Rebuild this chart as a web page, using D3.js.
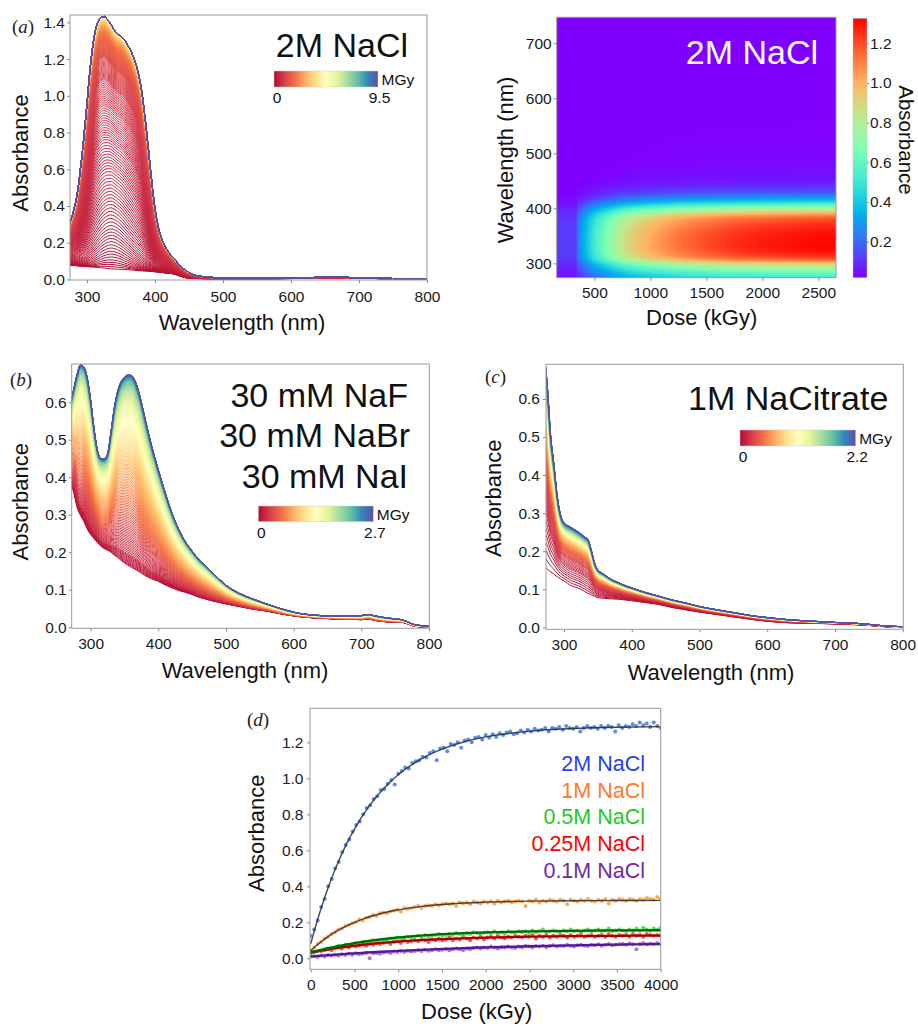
<!DOCTYPE html>
<html>
<head>
<meta charset="utf-8">
<script src="https://cdn.jsdelivr.net/npm/d3@7"></script>
<style>
  body { margin: 0; background: #fff; }
  svg { display: block; }
</style>
</head>
<body>
<svg id="fig" width="918" height="1027"></svg>
<script>
// (a) 2M NaCl spectra: dose-0 baseline, last spectrum, shape of the first grown-in band
var aWl = [275, 280, 285, 290, 295, 300, 305, 310, 315, 320, 325, 330, 335, 340, 345, 350, 355, 360, 365, 370, 375, 380, 385, 390, 395, 400, 405, 410, 415, 420, 425, 430, 440, 450, 460, 480, 500, 550, 600, 650, 700, 750, 800];
var aBase = [0.078, 0.076, 0.075, 0.073, 0.072, 0.07, 0.068, 0.067, 0.065, 0.064, 0.062, 0.06, 0.058, 0.057, 0.056, 0.055, 0.054, 0.053, 0.052, 0.05, 0.048, 0.047, 0.046, 0.045, 0.043, 0.042, 0.04, 0.038, 0.036, 0.034, 0.032, 0.028, 0.015, 0.007, 0.005, 0.004, 0.004, 0.004, 0.005, 0.008, 0.007, 0.003, 0.0];
var aFinal = [0.31, 0.37, 0.45, 0.59, 0.76, 0.96, 1.16, 1.31, 1.39, 1.425, 1.432, 1.415, 1.39, 1.36, 1.335, 1.325, 1.305, 1.275, 1.24, 1.195, 1.13, 1.035, 0.89, 0.72, 0.54, 0.385, 0.285, 0.22, 0.18, 0.15, 0.125, 0.105, 0.065, 0.038, 0.022, 0.012, 0.008, 0.006, 0.007, 0.012, 0.01, 0.005, 0.0];
var aEarly = [0, 0, 0.005, 0.02, 0.05, 0.11, 0.2, 0.33, 0.49, 0.66, 0.81, 0.93, 1.0, 0.99, 0.93, 0.83, 0.71, 0.58, 0.46, 0.35, 0.26, 0.18, 0.12, 0.075, 0.045, 0.025, 0.014, 0.007, 0.003, 0.001, 0, 0, 0, 0, 0, 0, 0, 0, 0, 0, 0, 0, 0];
var aGrowT = [0, 0.005, 0.01, 0.02, 0.03, 0.045, 0.06, 0.08, 0.1, 0.13, 0.17, 0.22, 0.3, 0.4, 0.5, 0.6, 1];
var aGrowF = [0, 0.03, 0.07, 0.16, 0.26, 0.4, 0.52, 0.65, 0.75, 0.84, 0.9, 0.94, 0.97, 0.99, 0.997, 1, 1];
var aCount = 700;

// heat map (2M NaCl): peak absorbance against dose, normalised band profile against wavelength
var hmDose = [164, 342, 346, 400, 500, 600, 700, 800, 1000, 1250, 1500, 1750, 2000, 2250, 2500, 2658];
var hmPeak = [0.12, 0.12, 0.22, 0.33, 0.52, 0.66, 0.79, 0.9, 1.02, 1.13, 1.2, 1.25, 1.28, 1.3, 1.315, 1.32];
var hmWl = [274, 280, 285, 290, 295, 300, 305, 310, 315, 320, 330, 340, 350, 360, 370, 380, 385, 390, 395, 400, 405, 410, 415, 420, 425, 430, 440, 450, 460, 480, 500, 600, 750];
var hmProfile = [0.38, 0.44, 0.5, 0.57, 0.64, 0.72, 0.85, 0.92, 0.96, 0.98, 1.0, 1.0, 0.995, 0.98, 0.95, 0.91, 0.86, 0.78, 0.68, 0.58, 0.47, 0.37, 0.28, 0.21, 0.16, 0.12, 0.07, 0.045, 0.035, 0.025, 0.02, 0.01, 0.005];

// (b) 30 mM NaF / NaBr / NaI
var bWl = [272, 275, 280, 285, 290, 295, 300, 305, 310, 315, 320, 325, 330, 335, 340, 345, 350, 355, 360, 365, 370, 375, 380, 390, 400, 410, 420, 430, 440, 450, 460, 470, 480, 490, 500, 520, 540, 560, 580, 600, 620, 640, 660, 680, 700, 710, 720, 740, 760, 780, 800];
var bBase = [0.375, 0.36, 0.32, 0.298, 0.282, 0.262, 0.247, 0.236, 0.226, 0.216, 0.21, 0.205, 0.2, 0.192, 0.186, 0.178, 0.171, 0.165, 0.16, 0.155, 0.15, 0.144, 0.138, 0.129, 0.122, 0.113, 0.105, 0.098, 0.093, 0.087, 0.08, 0.075, 0.07, 0.066, 0.062, 0.055, 0.048, 0.043, 0.036, 0.03, 0.026, 0.024, 0.022, 0.021, 0.02, 0.022, 0.018, 0.014, 0.013, 0.002, 0.0];
var bFinal = [0.61, 0.635, 0.675, 0.7, 0.694, 0.665, 0.605, 0.53, 0.472, 0.45, 0.448, 0.462, 0.52, 0.585, 0.63, 0.655, 0.667, 0.673, 0.672, 0.66, 0.635, 0.6, 0.56, 0.485, 0.42, 0.36, 0.305, 0.262, 0.228, 0.203, 0.18, 0.163, 0.145, 0.128, 0.112, 0.09, 0.075, 0.062, 0.05, 0.04, 0.034, 0.031, 0.03, 0.03, 0.031, 0.034, 0.03, 0.024, 0.02, 0.006, 0.003];
var bGrowT = [0, 0.05, 0.1, 0.2, 0.3, 0.4, 0.5, 0.6, 0.7, 0.8, 0.9, 1];
var bGrowF = [0, 0.06, 0.15, 0.33, 0.5, 0.64, 0.76, 0.86, 0.93, 0.97, 0.99, 1];
var bCount = 200;

// (c) 1M NaCitrate
var cWl = [273, 276, 280, 285, 290, 295, 300, 305, 310, 315, 320, 325, 330, 335, 340, 345, 350, 355, 360, 370, 380, 390, 400, 420, 440, 460, 480, 500, 520, 540, 560, 580, 600, 620, 650, 680, 700, 720, 750, 780, 800];
var cBase = [0.158, 0.152, 0.146, 0.14, 0.133, 0.127, 0.122, 0.116, 0.11, 0.107, 0.104, 0.1, 0.095, 0.09, 0.086, 0.082, 0.078, 0.077, 0.076, 0.075, 0.074, 0.072, 0.07, 0.065, 0.06, 0.052, 0.046, 0.04, 0.035, 0.03, 0.025, 0.02, 0.016, 0.013, 0.011, 0.01, 0.009, 0.008, 0.005, 0.001, 0.0];
var cFinal = [0.685, 0.62, 0.51, 0.43, 0.345, 0.295, 0.275, 0.268, 0.263, 0.258, 0.252, 0.246, 0.238, 0.232, 0.205, 0.17, 0.15, 0.144, 0.138, 0.126, 0.118, 0.11, 0.104, 0.092, 0.082, 0.072, 0.064, 0.055, 0.048, 0.042, 0.036, 0.03, 0.026, 0.022, 0.018, 0.015, 0.013, 0.012, 0.008, 0.003, 0.002];
var cGrowT = [0, 0.02, 0.05, 0.1, 0.15, 0.2, 0.3, 0.4, 0.5, 0.6, 0.7, 0.8, 0.9, 1];
var cGrowF = [0, 0.12, 0.27, 0.43, 0.53, 0.6, 0.7, 0.77, 0.83, 0.88, 0.92, 0.95, 0.98, 1];
var cCount = 140;

// (d) absorbance vs dose, points evenly spaced over 0-4000 kGy
var dNames = ['2M NaCl', '1M NaCl', '0.5M NaCl', '0.25M NaCl', '0.1M NaCl'];
var d2M = [0.125, 0.16, 0.21, 0.285, 0.33, 0.40, 0.44, 0.50, 0.535, 0.59, 0.63, 0.66, 0.705, 0.74, 0.76, 0.80, 0.835, 0.85, 0.885, 0.90, 0.935, 0.94, 0.97, 0.99, 0.965, 1.025, 1.04, 1.06, 1.055, 1.085, 1.095, 1.10, 1.12, 1.115, 1.14, 1.15, 1.10, 1.165, 1.17, 1.15, 1.19, 1.185, 1.20, 1.17, 1.21, 1.215, 1.20, 1.225, 1.23, 1.215, 1.24, 1.225, 1.245, 1.23, 1.25, 1.24, 1.255, 1.26, 1.245, 1.25, 1.265, 1.255, 1.27, 1.26, 1.275, 1.265, 1.27, 1.28, 1.26, 1.28, 1.275, 1.285, 1.27, 1.29, 1.28, 1.275, 1.285, 1.26, 1.28, 1.29, 1.28, 1.285, 1.275, 1.29, 1.28, 1.29, 1.285, 1.26, 1.295, 1.28, 1.29, 1.285, 1.30, 1.29, 1.31, 1.295, 1.305, 1.285, 1.31, 1.29, 1.28];
var d1M = [0.045, 0.06, 0.08, 0.09, 0.11, 0.12, 0.135, 0.145, 0.16, 0.165, 0.18, 0.185, 0.195, 0.20, 0.215, 0.21, 0.225, 0.23, 0.24, 0.235, 0.25, 0.255, 0.25, 0.26, 0.265, 0.27, 0.26, 0.28, 0.275, 0.28, 0.285, 0.29, 0.28, 0.29, 0.295, 0.29, 0.30, 0.295, 0.30, 0.305, 0.30, 0.305, 0.29, 0.31, 0.305, 0.31, 0.30, 0.315, 0.31, 0.305, 0.315, 0.31, 0.315, 0.305, 0.32, 0.31, 0.315, 0.32, 0.31, 0.315, 0.32, 0.315, 0.29, 0.32, 0.315, 0.325, 0.31, 0.32, 0.315, 0.325, 0.32, 0.315, 0.325, 0.32, 0.30, 0.325, 0.32, 0.315, 0.325, 0.32, 0.33, 0.32, 0.315, 0.325, 0.32, 0.33, 0.305, 0.325, 0.32, 0.33, 0.325, 0.32, 0.33, 0.325, 0.32, 0.33, 0.325, 0.335, 0.33, 0.325, 0.34, 0.33];
var d05M = [0.03, 0.035, 0.04, 0.045, 0.05, 0.055, 0.06, 0.06, 0.07, 0.065, 0.075, 0.075, 0.08, 0.085, 0.08, 0.09, 0.09, 0.095, 0.10, 0.095, 0.10, 0.105, 0.10, 0.11, 0.105, 0.115, 0.11, 0.115, 0.12, 0.115, 0.12, 0.125, 0.12, 0.13, 0.12, 0.125, 0.13, 0.135, 0.125, 0.13, 0.135, 0.13, 0.14, 0.135, 0.13, 0.14, 0.135, 0.145, 0.14, 0.135, 0.14, 0.145, 0.14, 0.15, 0.14, 0.145, 0.135, 0.15, 0.145, 0.14, 0.15, 0.145, 0.15, 0.14, 0.155, 0.145, 0.15, 0.16, 0.145, 0.15, 0.155, 0.15, 0.145, 0.155, 0.15, 0.16, 0.15, 0.155, 0.145, 0.155, 0.16, 0.15, 0.155, 0.16, 0.15, 0.155, 0.165, 0.15, 0.155, 0.16, 0.155, 0.15, 0.16, 0.155, 0.165, 0.155, 0.17, 0.16, 0.155, 0.165, 0.16, 0.17];
var d025M = [0.03, 0.035, 0.04, 0.04, 0.045, 0.05, 0.045, 0.055, 0.06, 0.055, 0.065, 0.06, 0.07, 0.065, 0.07, 0.075, 0.07, 0.08, 0.075, 0.085, 0.08, 0.085, 0.09, 0.08, 0.09, 0.095, 0.085, 0.10, 0.09, 0.095, 0.10, 0.095, 0.105, 0.10, 0.09, 0.105, 0.10, 0.11, 0.10, 0.105, 0.115, 0.10, 0.11, 0.105, 0.12, 0.11, 0.10, 0.115, 0.11, 0.12, 0.105, 0.115, 0.12, 0.11, 0.125, 0.115, 0.11, 0.12, 0.115, 0.125, 0.12, 0.115, 0.125, 0.12, 0.13, 0.11, 0.125, 0.12, 0.13, 0.115, 0.125, 0.12, 0.13, 0.125, 0.115, 0.13, 0.12, 0.125, 0.135, 0.12, 0.125, 0.13, 0.12, 0.125, 0.13, 0.12, 0.135, 0.125, 0.12, 0.13, 0.125, 0.13, 0.12, 0.135, 0.125, 0.13, 0.12, 0.135, 0.13, 0.125, 0.13, 0.125];
var d01M = [0.01, 0.012, 0.008, 0.015, 0.01, 0.018, 0.015, 0.02, 0.015, 0.022, 0.018, 0.025, 0.02, 0.028, 0.022, 0.025, 0.03, 0.0, 0.028, 0.03, 0.025, 0.032, 0.035, 0.03, 0.038, 0.035, 0.04, 0.035, 0.042, 0.038, 0.04, 0.045, 0.04, 0.048, 0.042, 0.045, 0.05, 0.045, 0.048, 0.052, 0.045, 0.05, 0.055, 0.05, 0.045, 0.055, 0.05, 0.058, 0.06, 0.055, 0.06, 0.058, 0.065, 0.06, 0.055, 0.062, 0.06, 0.065, 0.06, 0.058, 0.065, 0.062, 0.07, 0.065, 0.06, 0.068, 0.065, 0.07, 0.062, 0.068, 0.072, 0.065, 0.07, 0.068, 0.075, 0.07, 0.065, 0.072, 0.075, 0.07, 0.068, 0.075, 0.072, 0.078, 0.07, 0.075, 0.08, 0.072, 0.075, 0.078, 0.08, 0.075, 0.082, 0.078, 0.05, 0.08, 0.085, 0.078, 0.082, 0.08, 0.085, 0.08];
var dFitDose = [0, 50, 100, 150, 200, 300, 400, 500, 600, 750, 900, 1000, 1250, 1500, 1750, 2000, 2500, 3000, 3500, 4000];
var dFit2M = [0.08, 0.167, 0.249, 0.324, 0.394, 0.518, 0.626, 0.718, 0.798, 0.897, 0.976, 1.02, 1.104, 1.162, 1.202, 1.23, 1.262, 1.277, 1.284, 1.287];
var dFit1M = [0.042, 0.064, 0.085, 0.104, 0.121, 0.152, 0.178, 0.2, 0.219, 0.242, 0.26, 0.269, 0.287, 0.299, 0.307, 0.312, 0.318, 0.32, 0.321, 0.322];
var dFit05M = [0.03, 0.037, 0.043, 0.05, 0.056, 0.066, 0.076, 0.085, 0.092, 0.102, 0.111, 0.116, 0.126, 0.134, 0.14, 0.144, 0.15, 0.153, 0.155, 0.156];
var dFit025M = [0.033, 0.038, 0.042, 0.046, 0.05, 0.058, 0.064, 0.07, 0.076, 0.083, 0.089, 0.093, 0.101, 0.107, 0.111, 0.115, 0.12, 0.123, 0.125, 0.126];
var dFit01M = [0.01, 0.012, 0.014, 0.016, 0.018, 0.021, 0.025, 0.028, 0.031, 0.035, 0.039, 0.041, 0.047, 0.052, 0.057, 0.061, 0.067, 0.072, 0.076, 0.079];
var dDotColors = ['#3c78f0', '#ff9a33', '#3cdc3c', '#ff3535', '#a656e6'];
var dFitColors = ['#2b2b2b', '#2b2b2b', '#006a00', '#a30000', '#4f1c8f'];
var dTextColors = ['#1f3ff2', '#ff7b2a', '#1ecb1e', '#ff0000', '#7028a8'];

var spectralStops = ['#b5092f', '#d53e4f', '#f46d43', '#fdae61', '#fee08b', '#ffffbf', '#e6f598', '#abdda4', '#66c2a5', '#3288bd', '#5e4fa2'];
var rainbowStops = ['#8000ff', '#4062fa', '#00b4eb', '#40ebd4', '#80ffb4', '#c0eb8e', '#ffb462', '#ff6232', '#ff0000'];

var FONT = '"Liberation Sans", Arial, Helvetica, sans-serif';
var TICK = 15.5, TITLE = 22;
var svg = d3.select('#fig').attr('font-family', FONT);
var defs = svg.append('defs');
svg.append('rect').attr('width', 918).attr('height', 1027).attr('fill', '#fff');

var spectral = d3.piecewise(d3.interpolateRgb, spectralStops);
var rainbow = d3.piecewise(d3.interpolateRgb, rainbowStops);

function panel(id, x0, x1, y0, y1, xDom, yDom) {
  defs.append('clipPath').attr('id', 'clip-' + id)
    .append('rect').attr('x', x0).attr('y', y0).attr('width', x1 - x0).attr('height', y1 - y0);
  return {
    x: d3.scaleLinear().domain(xDom).range([x0, x1]),
    y: d3.scaleLinear().domain(yDom).range([y1, y0]),
    x0: x0, x1: x1, y0: y0, y1: y1,
    clip: 'url(#clip-' + id + ')'
  };
}

function styleAxis(a) {
  a.attr('font-family', FONT).attr('font-size', TICK);
  a.select('.domain').remove();
  a.selectAll('line').attr('stroke', '#888');
  a.selectAll('text').attr('fill', '#1a1a1a');
}

function axes(p, xTicks, yTicks, xFmt, yFmt, xPad, yPad) {
  var gx = svg.append('g').attr('transform', 'translate(0,' + p.y1 + ')')
    .call(d3.axisBottom(p.x).tickValues(xTicks).tickFormat(xFmt).tickSize(3).tickPadding(xPad));
  var gy = svg.append('g').attr('transform', 'translate(' + p.x0 + ',0)')
    .call(d3.axisLeft(p.y).tickValues(yTicks).tickFormat(yFmt).tickSize(3).tickPadding(yPad));
  styleAxis(gx);
  styleAxis(gy);
  svg.append('rect')
    .attr('x', p.x0).attr('y', p.y0)
    .attr('width', p.x1 - p.x0).attr('height', p.y1 - p.y0)
    .attr('fill', 'none').attr('stroke', '#9a9a9a').attr('stroke-width', 1);
}

function label(x, y, str, size, opt) {
  opt = opt || {};
  var t = svg.append('text')
    .attr('font-size', size)
    .attr('fill', opt.fill || '#111')
    .attr('text-anchor', opt.anchor || 'middle')
    .text(str);
  if (opt.rotate) t.attr('transform', 'translate(' + x + ',' + y + ') rotate(' + opt.rotate + ')');
  else t.attr('x', x).attr('y', y);
  return t;
}

function panelLabel(x, y, letter) {
  var t = svg.append('text').attr('x', x).attr('y', y)
    .attr('font-family', '"Liberation Serif", "Times New Roman", serif')
    .attr('font-size', 19).attr('fill', '#222');
  t.append('tspan').text('(');
  t.append('tspan').attr('font-style', 'italic').text(letter);
  t.append('tspan').text(')');
}

function doseBar(id, x0, x1, y0, y1, maxLabel) {
  var grad = defs.append('linearGradient').attr('id', id);
  d3.range(11).forEach(function (i) {
    grad.append('stop').attr('offset', (i * 10) + '%').attr('stop-color', spectral(i / 10));
  });
  svg.append('rect').attr('x', x0).attr('y', y0).attr('width', x1 - x0).attr('height', y1 - y0)
    .attr('fill', 'url(#' + id + ')').attr('stroke', '#d0d0d0').attr('stroke-width', 0.5);
  label(x0 + 3, y1 + 16, '0', TICK);
  label(x1 + 1.5, y1 + 16, maxLabel, TICK);
  label(x1 + 3.5, y1 - 2, 'MGy', TICK, {anchor: 'start'});
}

// early spectra keep the narrow band shape, later ones take the final shape
function drawSpectra(p, wl, base, fin, early, growT, growF, count) {
  var grow = d3.scaleLinear().domain(growT).range(growF).clamp(true);
  var diff = fin.map(function (v, i) { return v - base[i]; });
  var top = d3.max(diff);
  var line = d3.line()
    .x(function (d) { return p.x(d[0]); })
    .y(function (d) { return p.y(d[1]); })
    .curve(d3.curveMonotoneX);
  var g = svg.append('g').attr('clip-path', p.clip)
    .attr('fill', 'none').attr('stroke-width', 1);
  d3.range(count).forEach(function (k) {
    var t = k / (count - 1), f = grow(t), w = 1 - Math.pow(1 - f, 3);
    var pts = wl.map(function (l, i) {
      var s = early ? (1 - w) * early[i] * top + w * diff[i] : diff[i];
      return [l, base[i] + f * s];
    });
    g.append('path').attr('d', line(pts)).attr('stroke', spectral(t));
  });
}

var f1 = d3.format('.1f'), fd = d3.format('d');

// ---- (a)
var pa = panel('a', 70, 427, 15, 280, [275, 800], [-0.003, 1.44]);
drawSpectra(pa, aWl, aBase, aFinal, aEarly, aGrowT, aGrowF, aCount);
axes(pa, [300, 400, 500, 600, 700, 800], [0, 0.2, 0.4, 0.6, 0.8, 1.0, 1.2, 1.4], fd, f1, 8, 2);
label(408, 57, '2M NaCl', 34, {anchor: 'end'});
doseBar('barA', 274, 378, 71, 87, '9.5');
label(242, 330, 'Wavelength (nm)', TITLE);
label(28, 153, 'Absorbance', TITLE, {rotate: -90});
panelLabel(12, 33, 'a');

// ---- heat map
var ph = panel('h', 556.7, 836, 17.3, 277.7, [164, 2658], [274, 747]);
var hPeak = d3.scaleLinear().domain(hmDose).range(hmPeak).clamp(true);
var hProf = d3.scaleLinear().domain(hmWl).range(hmProfile).clamp(true);
var hColor = d3.scaleSequential(rainbow).domain([0.018, 1.326]).clamp(true);
(function () {
  var cw = Math.round(ph.x1 - ph.x0), ch = Math.round(ph.y1 - ph.y0);
  var canvas = document.createElement('canvas');
  canvas.width = cw; canvas.height = ch;
  var ctx = canvas.getContext('2d');
  var img = ctx.createImageData(cw, ch);
  for (var j = 0; j < ch; j++) {
    var wl = ph.y.invert(ph.y0 + (j + 0.5) * (ph.y1 - ph.y0) / ch);
    for (var i = 0; i < cw; i++) {
      var dose = ph.x.invert(ph.x0 + (i + 0.5) * (ph.x1 - ph.x0) / cw);
      var c = d3.rgb(hColor(hPeak(dose) * hProf(wl)));
      var o = (j * cw + i) * 4;
      img.data[o] = c.r; img.data[o + 1] = c.g; img.data[o + 2] = c.b; img.data[o + 3] = 255;
    }
  }
  ctx.putImageData(img, 0, 0);
  svg.append('image').attr('href', canvas.toDataURL())
    .attr('x', ph.x0).attr('y', ph.y0)
    .attr('width', ph.x1 - ph.x0).attr('height', ph.y1 - ph.y0)
    .attr('preserveAspectRatio', 'none');
})();
axes(ph, [500, 1000, 1500, 2000, 2500], [300, 400, 500, 600, 700], fd, fd, 6.5, 2);
label(818, 64, '2M NaCl', 34, {anchor: 'end', fill: '#fff'});
label(701.7, 325, 'Dose (kGy)', TITLE);
label(513, 160, 'Wavelength (nm)', TITLE, {rotate: -90});

var cbScale = d3.scaleLinear().domain([0.018, 1.326]).range([277.7, 18.3]);
var cbGrad = defs.append('linearGradient').attr('id', 'cbH')
  .attr('x1', 0).attr('y1', 1).attr('x2', 0).attr('y2', 0);
d3.range(21).forEach(function (i) {
  cbGrad.append('stop').attr('offset', (i * 5) + '%').attr('stop-color', rainbow(i / 20));
});
svg.append('rect').attr('x', 853).attr('y', 18.3).attr('width', 14).attr('height', 259.4)
  .attr('fill', 'url(#cbH)').attr('stroke', '#bbb').attr('stroke-width', 0.5);
var cbAxis = svg.append('g').attr('transform', 'translate(867,0)')
  .call(d3.axisRight(cbScale).tickValues([0.2, 0.4, 0.6, 0.8, 1.0, 1.2]).tickFormat(f1).tickSize(2).tickPadding(1));
styleAxis(cbAxis);
label(899, 140, 'Absorbance', 20.5, {rotate: 90});

// ---- (b)
var pb = panel('b', 71.7, 429.3, 364, 628.3, [272, 800.5], [-0.003, 0.702]);
drawSpectra(pb, bWl, bBase, bFinal, null, bGrowT, bGrowF, bCount);
axes(pb, [300, 400, 500, 600, 700, 800], [0, 0.1, 0.2, 0.3, 0.4, 0.5, 0.6], fd, f1, 6.5, 2);
label(408, 406.7, '30 mM NaF', 34, {anchor: 'end'});
label(410, 447.3, '30 mM NaBr', 34, {anchor: 'end'});
label(408, 488.3, '30 mM NaI', 34, {anchor: 'end'});
doseBar('barB', 258.3, 373.3, 506, 521.7, '2.7');
label(245, 678, 'Wavelength (nm)', TITLE);
label(28, 501.7, 'Absorbance', TITLE, {rotate: -90});
panelLabel(10, 386, 'b');

// ---- (c)
var pc = panel('c', 546, 903.3, 364.3, 629.3, [273.4, 800.9], [-0.005, 0.691]);
drawSpectra(pc, cWl, cBase, cFinal, null, cGrowT, cGrowF, cCount);
axes(pc, [300, 400, 500, 600, 700, 800], [0, 0.1, 0.2, 0.3, 0.4, 0.5, 0.6], fd, f1, 7, 3);
label(888.3, 410, '1M NaCitrate', 34, {anchor: 'end'});
doseBar('barC', 740, 855.7, 430, 446, '2.2');
label(711, 680, 'Wavelength (nm)', TITLE);
label(501, 498.3, 'Absorbance', TITLE, {rotate: -90});
panelLabel(485, 383, 'c');

// ---- (d)
var pd = panel('d', 310, 660.7, 708.3, 969.3, [-8, 4000], [-0.061, 1.389]);
var dDots = [d2M, d1M, d05M, d025M, d01M];
var dFits = [dFit2M, dFit1M, dFit05M, dFit025M, dFit01M];
var dotG = svg.append('g').attr('clip-path', pd.clip);
[4, 3, 2, 1, 0].forEach(function (s) {
  var vals = dDots[s];
  dotG.append('g').selectAll('circle')
    .data(vals)
    .enter()
    .append('circle')
    .attr('cx', function (v, i) { return pd.x(i * 4000 / (vals.length - 1)); })
    .attr('cy', function (v) { return pd.y(v); })
    .attr('r', 2)
    .attr('fill', dDotColors[s])
    .attr('opacity', 0.85);
});
var fitLine = d3.line().curve(d3.curveMonotoneX);
[4, 3, 2, 1, 0].forEach(function (s) {
  var pts = dFitDose.map(function (d, i) { return [pd.x(d), pd.y(dFits[s][i])]; });
  svg.append('path').attr('d', fitLine(pts))
    .attr('fill', 'none')
    .attr('stroke', dFitColors[s])
    .attr('stroke-width', s < 2 ? 1.4 : 2.3)
    .attr('opacity', s < 2 ? 0.85 : 1);
});
axes(pd, [0, 500, 1000, 1500, 2000, 2500, 3000, 3500, 4000], [0, 0.2, 0.4, 0.6, 0.8, 1.0, 1.2], fd, f1, 6.5, 3.5);
dNames.forEach(function (n, i) {
  label(645, 771 + i * 26.7, n, 21.5, {anchor: 'end', fill: dTextColors[i]});
});
label(476.7, 1019, 'Dose (kGy)', TITLE);
label(264, 833.3, 'Absorbance', TITLE, {rotate: -90});
panelLabel(247, 726, 'd');
</script>
</body>
</html>
